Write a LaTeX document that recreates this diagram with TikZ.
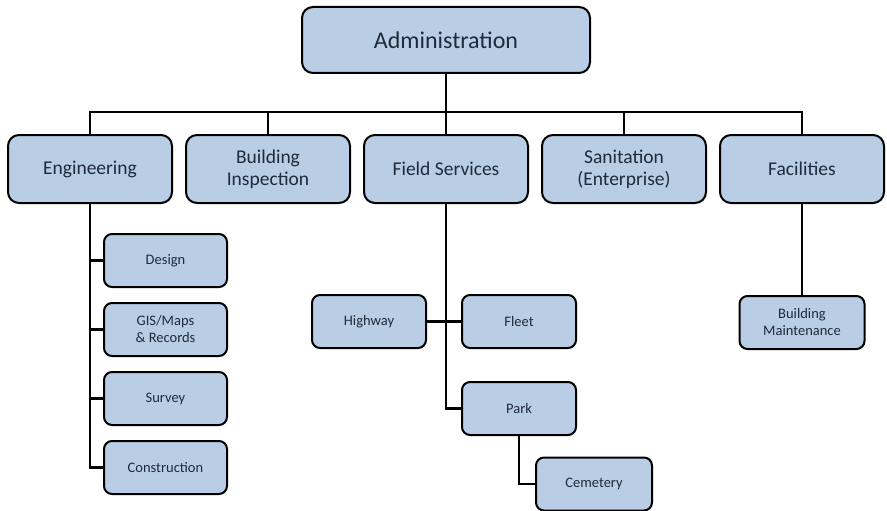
\documentclass[tikz,border=0pt]{standalone}
\usepackage{fontspec}
\setmainfont{Carlito}
\usepackage[dvipsnames]{xcolor}
\usetikzlibrary{positioning}
\definecolor{boxblue}{HTML}{B9CDE5}
\definecolor{boxtext}{HTML}{1F2A3A}

\begin{document}
\begin{tikzpicture}[x=1pt,y=1pt,-,node distance=178pt,
    box/.style={draw=black,line width=2pt,fill=boxblue,text=boxtext,align=center,inner sep=0pt},
    top node/.style={box,rounded corners=11pt,minimum width=288pt,minimum height=66pt,font=\fontsize{24}{28}\selectfont},
    dept node/.style={box,rounded corners=11pt,minimum width=164pt,minimum height=68pt,font=\fontsize{19.5}{22}\selectfont},
    unit node/.style={box,rounded corners=8pt,minimum width=123pt,minimum height=53pt,font=\fontsize{14.5}{17}\selectfont},
    link/.style={line width=2.2pt}]
                \useasboundingbox (0,0) rectangle (887,-511);
                \node[top node] (admin) at (446,-40) {Administration};
                \coordinate (bus) at (0,-112);

                \node[dept node] (eng) at (90,-169) {Engineering};
                \node[dept node] (insp) [right of=eng] {Building\\Inspection};
                \node[dept node] (field) [right of=insp] {Field Services};
                \node[dept node] (sanit) [right of=field] {Sanitation\\(Enterprise)};
                \node[dept node] (fac) [right of=sanit] {Facilities};

                % engineering
                \node[unit node] (design) at (165.5,-260.5) {Design};
                \node[unit node,node distance=69pt] (gis) [below of=design] {GIS/Maps\\\& Records};
                \node[unit node,node distance=69pt] (survey) [below of=gis] {Survey};
                \node[unit node,node distance=69pt] (constr) [below of=survey] {Construction};

                % field services
                \node[unit node,minimum width=114pt] (highway) at (369,-321.5) {Highway};
                \node[unit node,minimum width=114pt,node distance=150pt] (fleet) [right of=highway] {Fleet};
                \node[unit node,minimum width=114pt,node distance=87pt] (park) [below of=fleet] {Park};
                \node[unit node,minimum width=116pt] (cem) at (594,-484) {Cemetery};

                % facilities
                \node[unit node,minimum width=125pt,node distance=153.5pt] (maint) [below of=fac] {Building\\Maintenance};

                \draw[link] (admin.south) -- (admin.south |- bus);
                \draw[link] (eng.north) -- (eng.north |- bus) -- (fac.north |- bus) -- (fac.north);
                \foreach \n in {insp,field,sanit}
                    \draw[link] (\n.north) -- (\n.north |- bus);
                \foreach \n in {design,gis,survey,constr}
                    \draw[link] (eng.south) |- (\n.west);
                \draw[link] (field.south) |- (park.west);
                \draw[link] (highway) -- (fleet);
                \draw[link] (park.south) |- (cem.west);
                \draw[link] (fac.south) -- (maint.north);
            \end{tikzpicture}
\end{document}
